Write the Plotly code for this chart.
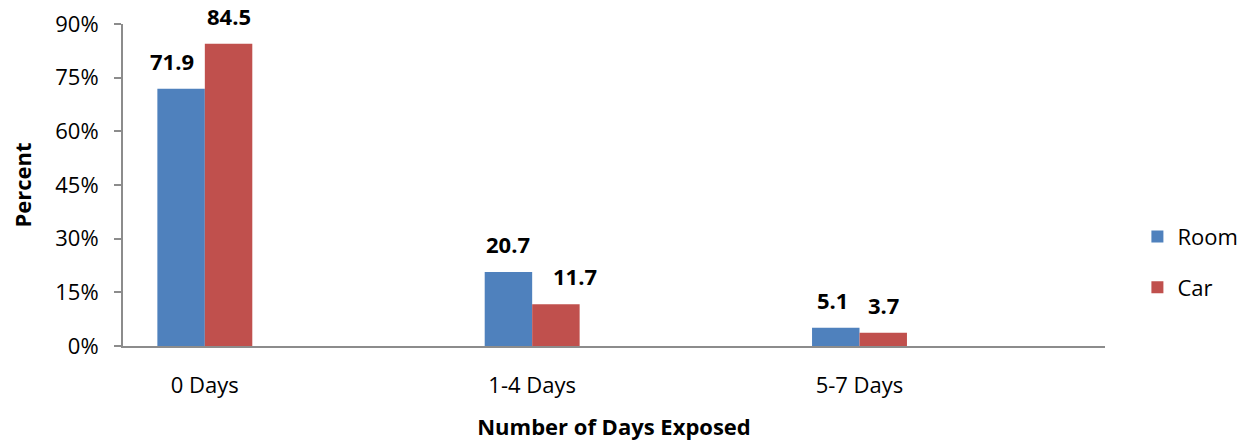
import plotly.graph_objects as go

categories = ["0 Days", "1-4 Days", "5-7 Days"]
room = [71.9, 20.7, 5.1]
car = [84.5, 11.7, 3.7]
y_ticks = [0, 15, 30, 45, 60, 75, 90]
y_labels = ["0%", "15%", "30%", "45%", "60%", "75%", "90%"]

FONT = "Open Sans, Lato, sans-serif"

W, H = 1239, 442
L, R, T, B = 123, 134, 24, 96
plot_w = W - L - R
x_range = [-0.25, 2.75]
bargap = 0.71
slot_px = plot_w / (x_range[1] - x_range[0])
bar_px = slot_px * (1 - bargap) / 2

# small horizontal label nudges (pixels) as placed in the original chart
room_nudge = [-9, 0, -3]
car_nudge = [0, 19, 0]

fig = go.Figure()
fig.add_trace(go.Bar(
    name="Room", x=categories, y=room, legendgroup="room",
    marker=dict(color="#4F81BD", line=dict(width=0)),
))
fig.add_trace(go.Bar(
    name="Car", x=categories, y=car, legendgroup="car",
    marker=dict(color="#C0504D", line=dict(width=0)),
))

annotations = []
for vals, sign, nudges in ((room, -1, room_nudge), (car, 1, car_nudge)):
    for c, v, n in zip(categories, vals, nudges):
        annotations.append(dict(
            x=c, y=v, xref="x", yref="y", text=f"<b>{v}</b>", showarrow=False,
            xanchor="center", yanchor="bottom", xshift=sign * bar_px / 2 + n, yshift=11,
            font=dict(size=22, color="#000000", family=FONT),
        ))

fig.update_layout(
    width=W, height=H,
    margin=dict(l=L, r=R, t=T, b=B, autoexpand=False),
    paper_bgcolor="white", plot_bgcolor="white",
    barmode="group", bargap=bargap, bargroupgap=0,
    font=dict(family=FONT, size=22, color="#000000"),
    showlegend=True,
    annotations=annotations,
    legend=dict(x=1.033, y=0.26, xanchor="left", yanchor="middle",
                font=dict(size=22), traceorder="grouped", tracegroupgap=19, itemwidth=30),
    xaxis=dict(
        range=x_range,
        showline=True, linecolor="#8C8C8C", linewidth=2,
        ticks="", showgrid=False, tickfont=dict(size=22),
        ticklabelstandoff=19,
        title=dict(text="<b>Number of Days Exposed</b>", font=dict(size=22), standoff=21),
    ),
    yaxis=dict(
        range=[0, 90], tickvals=y_ticks, ticktext=y_labels,
        showline=True, linecolor="#8C8C8C", linewidth=2,
        ticks="outside", ticklen=7, tickcolor="#8C8C8C", tickwidth=2,
        ticklabelstandoff=11,
        showgrid=False, zeroline=False, tickfont=dict(size=22),
        title=dict(text="<b>Percent</b>", font=dict(size=22), standoff=18),
    ),
)

fig.write_html("out.html", config={"displayModeBar": False},
               post_script="document.body.style.margin='0';")
